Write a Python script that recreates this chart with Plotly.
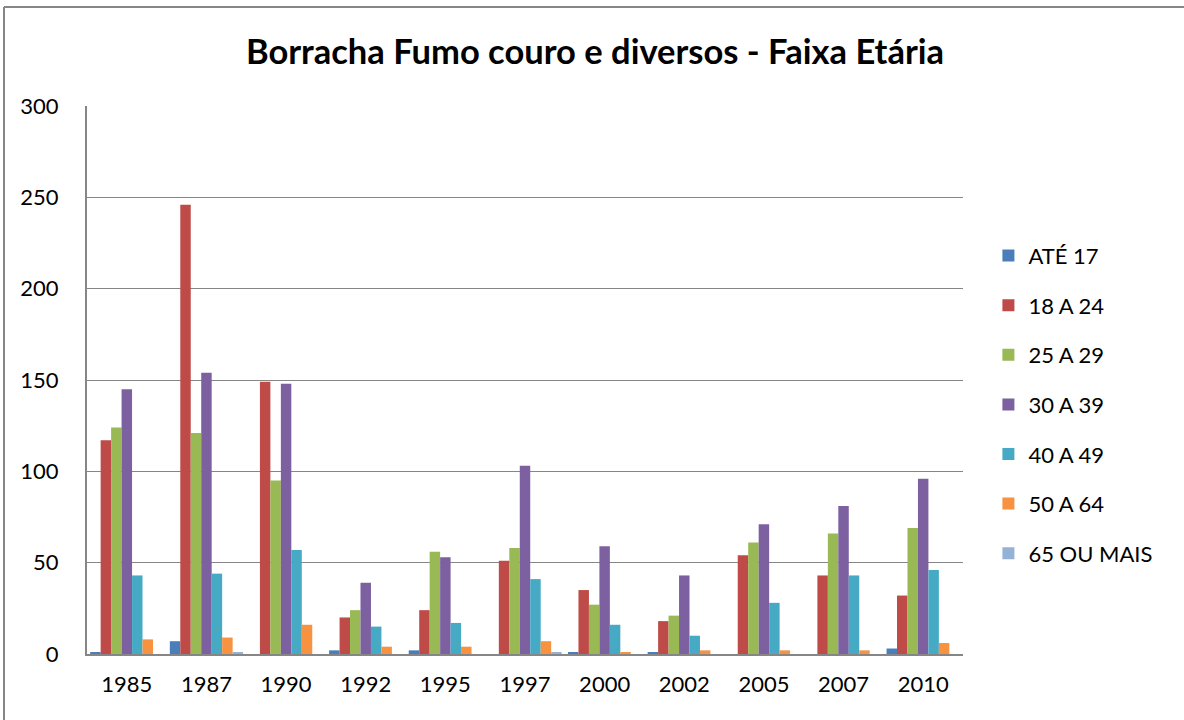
import plotly.graph_objects as go

years = ["1985", "1987", "1990", "1992", "1995", "1997", "2000", "2002", "2005", "2007", "2010"]
series_names = ["ATÉ 17", "18 A 24", "25 A 29", "30 A 39", "40 A 49", "50 A 64", "65 OU MAIS"]

ate_17 = [1, 7, 0, 2, 2, 0, 1, 1, 0, 0, 3]
de_18_24 = [117, 246, 149, 20, 24, 51, 35, 18, 54, 43, 32]
de_25_29 = [124, 121, 95, 24, 56, 58, 27, 21, 61, 66, 69]
de_30_39 = [145, 154, 148, 39, 53, 103, 59, 43, 71, 81, 96]
de_40_49 = [43, 44, 57, 15, 17, 41, 16, 10, 28, 43, 46]
de_50_64 = [8, 9, 16, 4, 4, 7, 1, 2, 2, 2, 6]
mais_65 = [0, 1, 0, 0, 0, 1, 0, 0, 0, 0, 0]

y_ticks = [0, 50, 100, 150, 200, 250, 300]

colors = ["#4A7EBB", "#BE4B48", "#98B954", "#7D60A0", "#46AAC5", "#F69240", "#94B2D6"]
values = [ate_17, de_18_24, de_25_29, de_30_39, de_40_49, de_50_64, mais_65]

font_family = "Lato, Carlito, Calibri, sans-serif"

fig = go.Figure()
for name, vals, col in zip(series_names, values, colors):
    fig.add_trace(go.Bar(
        x=years, y=vals, name=name, legendgroup=name,
        marker=dict(color=col, line=dict(width=0)),
    ))

fig.update_layout(
    width=1184, height=720,
    margin=dict(l=87, r=221, t=106, b=66),
    paper_bgcolor="white", plot_bgcolor="white",
    barmode="group", bargap=0.08, bargroupgap=0,
    font=dict(family=font_family, color="#000000", size=22),
    title=dict(
        text="<b>Borracha Fumo couro e diversos - Faixa Etária</b>",
        x=595 / 1184, xanchor="center", y=1 - 52 / 720, yanchor="middle",
        font=dict(size=34.5, family=font_family, color="#000000"),
    ),
    legend=dict(
        x=1.029, xanchor="left", y=0.765, yanchor="top",
        font=dict(size=22, family=font_family),
        traceorder="grouped", tracegroupgap=18,
        itemwidth=30, bgcolor="rgba(0,0,0,0)",
    ),
    showlegend=True,
)

fig.update_xaxes(
    type="category", showgrid=False, showline=True, linecolor="#868686", linewidth=2,
    ticks="", tickfont=dict(size=22), ticklabelstandoff=10,
)
fig.update_yaxes(
    range=[0, 300], tickvals=y_ticks, showgrid=True, gridcolor="#868686", gridwidth=1,
    showline=True, linecolor="#868686", linewidth=2, zeroline=False,
    ticks="", tickfont=dict(size=22), ticklabelstandoff=22,
)

# outer chart frame: only the top and left edges fall inside the page
frame_left = (4 - 87) / 876
frame_top = (654 - 7) / 548
frame_style = dict(color="#868686", width=2)
fig.add_shape(type="line", xref="paper", yref="paper",
              x0=frame_left, x1=(1184 - 87) / 876, y0=frame_top, y1=frame_top,
              line=frame_style, layer="below")
fig.add_shape(type="line", xref="paper", yref="paper",
              x0=frame_left, x1=frame_left, y0=frame_top, y1=(654 - 720) / 548,
              line=frame_style, layer="below")

fig.write_html("out.html")
